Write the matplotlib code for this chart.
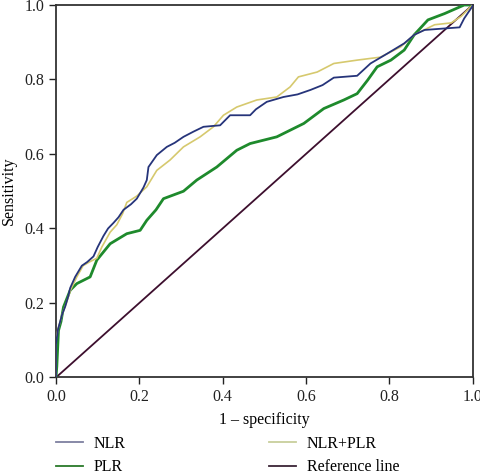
import matplotlib
matplotlib.use("Agg")
import matplotlib.pyplot as plt
from matplotlib.lines import Line2D

plt.rcParams['font.family'] = ['Liberation Serif', 'DejaVu Serif']

nlr_fpr = [0, 0, 0.005, 0.015, 0.022, 0.03, 0.034, 0.046, 0.062, 0.075, 0.09, 0.1, 0.114, 0.125,
           0.138, 0.15, 0.162, 0.18, 0.194, 0.21, 0.218, 0.222, 0.242, 0.266, 0.285, 0.306, 0.33,
           0.354, 0.394, 0.418, 0.466, 0.48, 0.506, 0.546, 0.58, 0.611, 0.64, 0.667, 0.723, 0.755,
           0.796, 0.836, 0.86, 0.885, 0.933, 0.969, 0.98, 1.0, 1.0]
nlr_sens = [0, 0.09, 0.13, 0.17, 0.19, 0.22, 0.24, 0.27, 0.30, 0.31, 0.325, 0.35, 0.38, 0.40,
            0.415, 0.43, 0.45, 0.465, 0.48, 0.51, 0.53, 0.565, 0.597, 0.619, 0.63, 0.646, 0.66,
            0.673, 0.677, 0.704, 0.704, 0.72, 0.74, 0.753, 0.76, 0.772, 0.785, 0.805, 0.81, 0.843,
            0.870, 0.897, 0.92, 0.933, 0.937, 0.94, 0.964, 0.997, 1.0]

plr_fpr = [0, 0.002, 0.006, 0.012, 0.018, 0.034, 0.05, 0.082, 0.098, 0.13, 0.17, 0.202, 0.218,
           0.24, 0.258, 0.306, 0.338, 0.386, 0.434, 0.466, 0.53, 0.595, 0.643, 0.691, 0.723,
           0.748, 0.771, 0.804, 0.836, 0.86, 0.893, 0.933, 0.98, 1.0]
plr_sens = [0, 0.03, 0.126, 0.15, 0.189, 0.234, 0.252, 0.27, 0.315, 0.359, 0.386, 0.395, 0.422,
            0.45, 0.48, 0.50, 0.53, 0.565, 0.61, 0.628, 0.646, 0.682, 0.722, 0.745, 0.762,
            0.798, 0.834, 0.852, 0.879, 0.92, 0.96, 0.977, 1.0, 1.0]

comb_fpr = [0, 0, 0.005, 0.015, 0.025, 0.035, 0.05, 0.065, 0.08, 0.098, 0.11, 0.13, 0.146, 0.16,
            0.17, 0.194, 0.218, 0.242, 0.274, 0.306, 0.346, 0.378, 0.402, 0.434, 0.482, 0.53,
            0.562, 0.582, 0.627, 0.667, 0.723, 0.779, 0.828, 0.86, 0.909, 0.949, 0.973, 1.0]
comb_sens = [0, 0.1, 0.13, 0.17, 0.2, 0.235, 0.27, 0.30, 0.31, 0.32, 0.35, 0.39, 0.41, 0.44,
             0.47, 0.487, 0.512, 0.556, 0.584, 0.619, 0.646, 0.673, 0.704, 0.726, 0.745, 0.753,
             0.78, 0.807, 0.82, 0.843, 0.852, 0.86, 0.888, 0.92, 0.947, 0.952, 0.97, 1.0]

ref_x = [0, 1]
ref_y = [0, 1]

labels = ["NLR", "PLR", "NLR+PLR", "Reference line"]
ticks = [0.0, 0.2, 0.4, 0.6, 0.8, 1.0]

fig = plt.figure(figsize=(4.81, 4.76), dpi=100)
ax = fig.add_axes([0.1164, 0.207, 0.866, 0.7825])

ax.plot(ref_x, ref_y, color='#3d0f2e', lw=1.3, zorder=2)
ax.plot(plr_fpr, plr_sens, color='#1e8a2c', lw=2.0, zorder=3)
ax.plot(comb_fpr, comb_sens, color='#d6c96e', lw=1.2, zorder=4)
ax.plot(nlr_fpr, nlr_sens, color='#26347a', lw=1.3, zorder=5)

ax.set_xlim(0, 1)
ax.set_ylim(0, 1)
ax.set_xticks(ticks)
ax.set_yticks(ticks)
ax.set_xticklabels([f"{t:.1f}" for t in ticks])
ax.set_yticklabels([f"{t:.1f}" for t in ticks])
ax.tick_params(direction='out', length=5, width=1, labelsize=11.5, colors='#222222')
for s in ax.spines.values():
    s.set_linewidth(1.3)
    s.set_color('#333333')
ax.set_xlabel("1 – specificity", fontsize=11.5, labelpad=5)
ax.set_ylabel("Sensitivity", fontsize=11.5, labelpad=5)

handles = [Line2D([], [], color='#7e80a0', lw=1.3),
           Line2D([], [], color='#2a7a2a', lw=1.3),
           Line2D([], [], color='#c8cf9c', lw=1.3),
           Line2D([], [], color='#3a2436', lw=1.3)]
fig.legend(handles, labels, ncol=2, loc='upper left', bbox_to_anchor=(0.116, 0.084),
           frameon=False, fontsize=11.5, handlelength=1.7, handletextpad=0.65,
           columnspacing=9.0, labelspacing=0.45, borderaxespad=0, borderpad=0)

fig.savefig("out.png", dpi=100)
